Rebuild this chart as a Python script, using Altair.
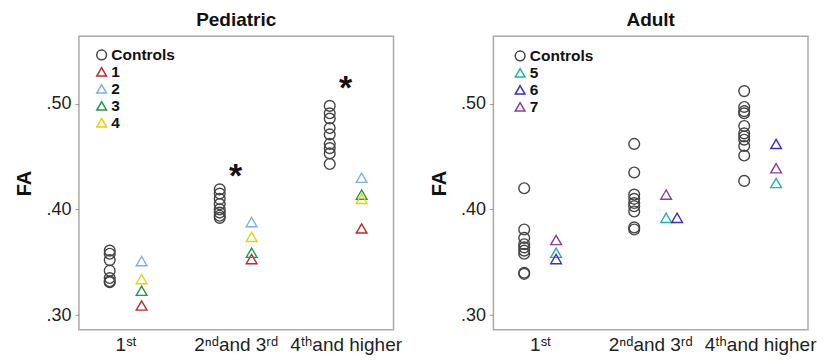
import altair as alt
import pandas as pd

# ---------------- data ----------------
group_labels = ["1ˢᵗ", "2ⁿᵈand 3ʳᵈ", "4ᵗʰand higher"]

# Pediatric
ped_controls_g1 = [0.361, 0.358, 0.352, 0.342, 0.335, 0.332, 0.331]
ped_controls_g2 = [0.419, 0.415, 0.410, 0.405, 0.400, 0.397, 0.394, 0.392]
ped_controls_g3 = [0.498, 0.491, 0.486, 0.477, 0.471, 0.462, 0.458, 0.453, 0.443]
ped_patient_names = ["1", "2", "3", "4"]
ped_patient_1 = [0.309, 0.353, 0.382]
ped_patient_2 = [0.351, 0.388, 0.430]
ped_patient_3 = [0.323, 0.359, 0.414]
ped_patient_4 = [0.334, 0.374, 0.410]
ped_colors = ["#C1272D", "#7EB0E3", "#1F9A4B", "#E3D400"]
ped_star_groups = [2, 3]
ped_star_fa = [0.436, 0.520]

# Adult
ad_controls_g1 = [0.420, 0.381, 0.373, 0.367, 0.364, 0.361, 0.358, 0.340, 0.339]
ad_controls_g2 = [0.462, 0.435, 0.414, 0.410, 0.406, 0.403, 0.398, 0.383, 0.381]
ad_controls_g3 = [0.512, 0.497, 0.493, 0.491, 0.479, 0.472, 0.469, 0.466, 0.460, 0.451, 0.427]
ad_patient_names = ["5", "6", "7"]
ad_patient_5 = [0.359, 0.392, 0.425]
ad_patient_6 = [0.353, 0.392, 0.462]
ad_patient_7 = [0.371, 0.414, 0.439]
ad_colors = ["#20B2AA", "#3B2BD6", "#8E3B9A"]

# ---------------- helpers ----------------
CTRL_SHIFT = -0.145
PAT_SHIFT = 0.145
# small horizontal dodge for overlapping triangles: (series, group) -> shift
DODGE = {("6", 2): 0.10}


def build_df(ctrl_lists, pat_names, pat_lists):
    rows = []
    for gi, vals in enumerate(ctrl_lists):
        for v in vals:
            rows.append({"series": "Controls", "group": gi + 1, "fa": v})
    for name, vals in zip(pat_names, pat_lists):
        for gi, v in enumerate(vals):
            rows.append({"series": name, "group": gi + 1, "fa": v})
    df = pd.DataFrame(rows)
    df["x"] = [
        g + (CTRL_SHIFT if s == "Controls" else PAT_SHIFT) + DODGE.get((s, g), 0.0)
        for s, g in zip(df["series"], df["group"])
    ]
    return df


label_array = "[" + ",".join("'" + l + "'" for l in group_labels) + "]"

x_scale = alt.Scale(domain=[0.575, 3.435], nice=False, zero=False)
y_scale = alt.Scale(domain=[0.286, 0.564], nice=False, zero=False)


def panel(title, df, pat_names, colors, stars_df, legend_x, legend_y):
    domain = ["Controls"] + pat_names
    crange = ["#444444"] + colors
    shapes = ["circle"] + ["triangle-up"] * len(pat_names)
    leg = alt.Legend(
        title=None, orient="none", legendX=legend_x, legendY=legend_y,
        labelFontSize=15.5, labelFontWeight="bold", labelColor="#111",
        symbolSize=95, symbolStrokeWidth=1.5, symbolFillColor="transparent",
        rowPadding=-0.5, labelOffset=2, symbolOffset=0, padding=0,
    )
    x_enc = alt.X(
        "x:Q", scale=x_scale,
        axis=alt.Axis(values=[1, 2, 3], labelExpr=label_array + "[datum.value-1]",
                      title=None, ticks=False, domain=False, grid=False,
                      labelFontSize=19, labelPadding=6, labelColor="#222"),
    )
    y_enc = alt.Y(
        "fa:Q", scale=y_scale,
        axis=alt.Axis(values=[0.3, 0.4, 0.5],
                      labelExpr="replace(format(datum.value,'.2f'),'0.','.')",
                      title="FA", titleFontSize=20, titleFontWeight="bold",
                      titleColor="#111", titlePadding=11,
                      ticks=True, tickSize=4, tickColor="#999", domain=False,
                      grid=False, labelFontSize=18, labelColor="#222", labelPadding=4),
    )
    pts = alt.Chart(df).mark_point(filled=False, size=115, strokeWidth=1.4, opacity=1).encode(
        x=x_enc, y=y_enc,
        color=alt.Color("series:N", scale=alt.Scale(domain=domain, range=crange), legend=leg),
        shape=alt.Shape("series:N", scale=alt.Scale(domain=domain, range=shapes), legend=leg),
    )
    layers = [pts]
    if stars_df is not None:
        stars = alt.Chart(stars_df).mark_text(
            text="*", fontSize=34, fontWeight="bold", baseline="alphabetic", dy=16,
            color="#111"
        ).encode(x=alt.X("x:Q", scale=x_scale), y=alt.Y("fa:Q", scale=y_scale))
        layers.append(stars)
    return alt.layer(*layers).properties(
        width=315, height=294,
        title=alt.TitleParams(title, fontSize=19, fontWeight="bold", color="#111", offset=6),
    )


ped_df = build_df([ped_controls_g1, ped_controls_g2, ped_controls_g3], ped_patient_names,
                  [ped_patient_1, ped_patient_2, ped_patient_3, ped_patient_4])
ad_df = build_df([ad_controls_g1, ad_controls_g2, ad_controls_g3], ad_patient_names,
                 [ad_patient_5, ad_patient_6, ad_patient_7])
star_df = pd.DataFrame({"x": ped_star_groups, "fa": ped_star_fa})

left = panel("Pediatric", ped_df, ped_patient_names, ped_colors, star_df, 15, 11)
right = panel("Adult", ad_df, ad_patient_names, ad_colors, None, 19, 12)

chart = alt.hconcat(left, right, spacing=26).resolve_scale(
    color="independent", shape="independent"
).resolve_legend(color="independent", shape="independent").properties(
    padding={"left": 6, "top": 2, "right": 4, "bottom": 0}
).configure(font="Liberation Sans").configure_view(stroke="#aaaaaa", strokeWidth=1.5)

chart.save("out.html", embed_options={"renderer": "svg", "actions": False})
